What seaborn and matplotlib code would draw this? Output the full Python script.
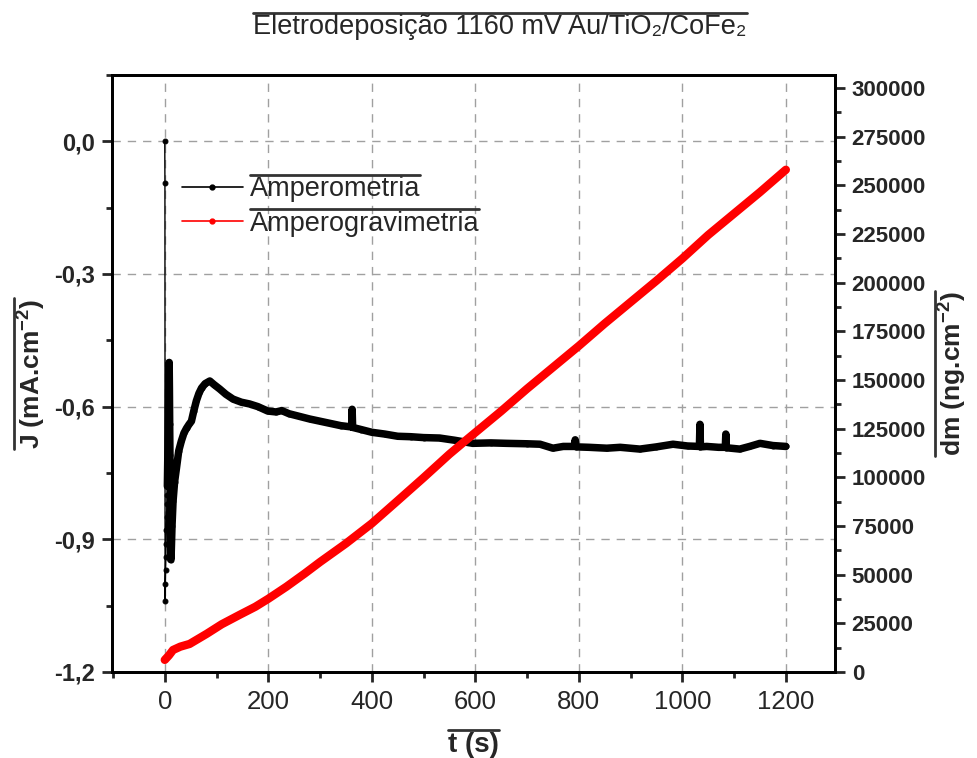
import matplotlib
matplotlib.use("Agg")
import numpy as np
import pandas as pd
import seaborn as sns
import matplotlib.pyplot as plt
from matplotlib.lines import Line2D
from matplotlib.ticker import MultipleLocator, FixedLocator

# ---------------- data ----------------
t_amp = [0, 0.3, 0.6, 1.0, 1.5, 2.0, 2.5, 3.0, 3.5, 4.0, 4.5, 5.0, 6.0, 7.0, 8.0, 8.5,
         9.0, 9.5, 10.0, 10.5, 11.0, 11.5, 12.5, 14, 16, 19, 22.6, 27, 32, 37, 42, 47,
         51.5, 56, 61, 66, 71, 78, 87, 95, 106, 118, 132, 148, 164, 180, 199, 215, 226,
         240, 260, 280, 300, 320, 340, 361, 362, 363, 380, 400, 425, 450, 475, 500, 531,
         560, 595, 630, 660, 700, 725, 750, 770, 791, 793, 795, 820, 854, 880, 918, 950,
         982, 1010, 1033, 1034, 1035, 1047, 1070, 1083, 1084, 1085, 1111, 1130, 1150,
         1175, 1200]
j_amp = [0.0, -0.095, -1.04, -1.00, -0.97, -0.94, -0.91, -0.88, -0.85, -0.82, -0.80,
         -0.78, -0.70, -0.60, -0.505, -0.50, -0.56, -0.64, -0.71, -0.76, -0.85, -0.946,
         -0.93, -0.87, -0.814, -0.77, -0.739, -0.70, -0.678, -0.66, -0.649, -0.64,
         -0.633, -0.61, -0.587, -0.57, -0.558, -0.548, -0.542, -0.55, -0.560, -0.572,
         -0.583, -0.59, -0.594, -0.60, -0.610, -0.612, -0.609, -0.616, -0.622, -0.628,
         -0.633, -0.638, -0.643, -0.646, -0.606, -0.647, -0.652, -0.658, -0.662, -0.667,
         -0.668, -0.670, -0.671, -0.676, -0.683, -0.682, -0.683, -0.684, -0.685, -0.694,
         -0.690, -0.690, -0.675, -0.691, -0.692, -0.694, -0.692, -0.696, -0.691, -0.685,
         -0.689, -0.690, -0.640, -0.691, -0.690, -0.692, -0.692, -0.662, -0.693, -0.696,
         -0.690, -0.683, -0.688, -0.690]

t_grav = [0, 8, 16, 30, 48, 81, 110, 145, 175, 200, 235, 270, 300, 350, 400, 450, 500,
          550, 580, 600, 650, 700, 750, 800, 850, 900, 950, 1000, 1050, 1100, 1150, 1200]
dm_grav = [6200, 8500, 11300, 13000, 14400, 19600, 24500, 29400, 33500, 37600, 43800,
           50500, 56500, 66000, 76300, 88000, 99800, 111900, 118600, 123000, 134000,
           145500, 156500, 167500, 179000, 190000, 201000, 212400, 224500, 235500,
           246500, 258000]

left_ticks = [0.0, -0.3, -0.6, -0.9, -1.2]
left_ticklabels = ["0,0", "-0,3", "-0,6", "-0,9", "-1,2"]
right_ticks = list(range(0, 300001, 25000))
x_ticks = [0, 200, 400, 600, 800, 1000, 1200]

title_text = "Eletrodeposição 1160 mV Au/TiO₂/CoFe₂"
series_names = ["Amperometria", "Amperogravimetria"]
xlabel_text = "t (s)"
ylabel_left = r"J (mA.cm$^{\mathbf{-2}}$)"
ylabel_right = r"dm (ng.cm$^{\mathbf{-2}}$)"

# ---------------- style ----------------
sns.set_style("ticks")
plt.rcParams["font.family"] = ["Liberation Sans", "DejaVu Sans"]
plt.rcParams["mathtext.fontset"] = "custom"
plt.rcParams["mathtext.rm"] = "Liberation Sans"
plt.rcParams["mathtext.bf"] = "Liberation Sans:bold"
plt.rcParams["mathtext.it"] = "Liberation Sans:italic"

df_amp = pd.DataFrame({"t": t_amp, "J": j_amp})
df_grav = pd.DataFrame({"t": t_grav, "dm": dm_grav})

fig = plt.figure(figsize=(9.78, 7.58), dpi=100)
ax = fig.add_axes([0.1145, 0.1135, 0.7393, 0.7876])

# grid
ax.set_axisbelow(True)
ax.grid(True, which="major", color="#a0a0a0", linestyle=(0, (6, 5)), linewidth=1.0)

# black series: thin line with markers + thick body
sns.lineplot(data=df_amp, x="t", y="J", ax=ax, color="black", lw=1.0, marker="o",
             markersize=3.5, markeredgecolor="black", sort=False, estimator=None)
sns.lineplot(data=df_amp[df_amp["t"] >= 5], x="t", y="J", ax=ax, color="black", lw=5.4,
             sort=False, estimator=None, solid_capstyle="round", solid_joinstyle="round")

ax.set_xlim(-102, 1295)
ax.set_ylim(-1.2, 0.15)

ax2 = ax.twinx()
sns.lineplot(data=df_grav, x="t", y="dm", ax=ax2, color="red", lw=6.0, sort=False,
             estimator=None, solid_capstyle="round", solid_joinstyle="round")
ax2.set_ylim(0, 306700)
ax2.set_xlim(-102, 1295)

# ticks
ax.xaxis.set_major_locator(FixedLocator(x_ticks))
ax.xaxis.set_minor_locator(MultipleLocator(100))
ax.yaxis.set_major_locator(FixedLocator(left_ticks))
ax.set_yticklabels(left_ticklabels)
ax.yaxis.set_minor_locator(MultipleLocator(0.15))
ax2.yaxis.set_major_locator(FixedLocator(right_ticks))
ax2.set_yticklabels([str(v) for v in right_ticks])
ax2.yaxis.set_minor_locator(MultipleLocator(12500))

for a in (ax, ax2):
    for s in a.spines.values():
        s.set_linewidth(2.0)
        s.set_color("black")
        s.set_visible(True)

ax.tick_params(axis="x", which="major", direction="out", length=7, width=2.0, top=False,
               bottom=True, pad=6)
ax.tick_params(axis="x", which="minor", direction="out", length=4, width=2.0, top=False,
               bottom=True)
ax.tick_params(axis="y", which="major", direction="out", length=7, width=2.0, left=True,
               right=False, pad=5)
ax.tick_params(axis="y", which="minor", direction="out", length=4, width=2.0, left=True,
               right=False)
ax2.tick_params(axis="y", which="major", direction="out", length=7, width=2.0, right=True,
                left=False, pad=5)
ax2.tick_params(axis="y", which="minor", direction="out", length=4, width=2.0, right=True,
                left=False)

for lab in ax.get_xticklabels():
    lab.set_family(["Liberation Sans Narrow", "Liberation Sans"])
    lab.set_fontsize(18.5)
for lab in ax.get_yticklabels():
    lab.set_fontweight("bold")
    lab.set_fontsize(17)
for lab in ax2.get_yticklabels():
    lab.set_fontweight("bold")
    lab.set_fontsize(16)

# labels
ax.set_xlabel(xlabel_text, fontsize=20, fontweight="bold",
              family=["Liberation Sans Narrow", "Liberation Sans"])
ax.xaxis.set_label_coords(0.5, -0.10)
ax.set_ylabel(ylabel_left, fontsize=19, fontweight="bold")
ax.yaxis.set_label_coords(-0.089, 0.5)
ax2.set_ylabel(ylabel_right, fontsize=19, fontweight="bold")
ax2.yaxis.set_label_coords(1.141, 0.5)

title = fig.text(0.511, 0.964, title_text, ha="center", va="center", fontsize=19.5)

# legend
handles = [Line2D([0], [0], color="black", lw=1.2, marker="o", markersize=3.5),
           Line2D([0], [0], color="red", lw=1.2, marker="o", markersize=3.5)]
leg = ax2.legend(handles, series_names, loc="upper left", frameon=False,
                 bbox_to_anchor=(182 / 978, 1 - 176 / 758),
                 bbox_transform=fig.transFigure, borderpad=0, borderaxespad=0,
                 handlelength=2.25, handletextpad=0.25, labelspacing=0.32,
                 fontsize=19.5)

# overlines (as in the reference)
fig.canvas.draw()
r = fig.canvas.get_renderer()
W, H = fig.bbox.width, fig.bbox.height


def overline(txt, vertical=False, pad=1.5, lw=2.0, color="#333333"):
    bb = txt.get_window_extent(r)
    if vertical:
        x = (bb.x0 - pad) / W
        fig.add_artist(Line2D([x, x], [bb.y0 / H, bb.y1 / H], transform=fig.transFigure,
                              color=color, lw=lw))
    else:
        y = (bb.y1 + pad) / H
        fig.add_artist(Line2D([bb.x0 / W, bb.x1 / W], [y, y], transform=fig.transFigure,
                              color=color, lw=lw))


overline(title)
overline(ax.xaxis.label)
overline(ax.yaxis.label, vertical=True)
overline(ax2.yaxis.label, vertical=True)
for tx in leg.get_texts():
    overline(tx)

fig.savefig("out.png", dpi=100)
